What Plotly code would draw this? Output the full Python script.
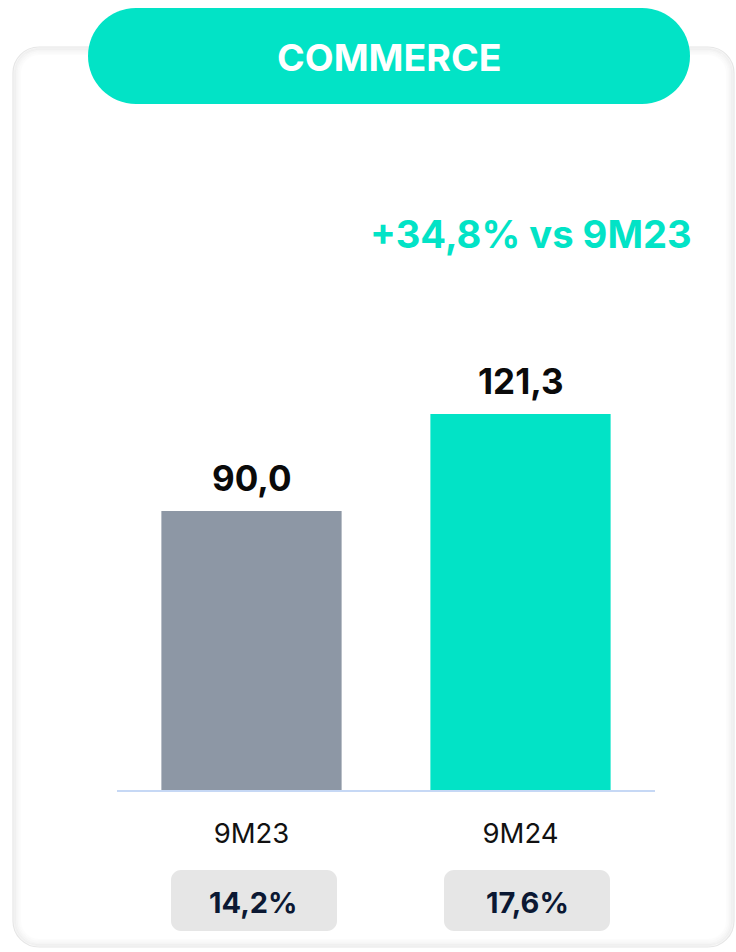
import plotly.graph_objects as go

W, H = 736, 952

categories = ["9M23", "9M24"]
values = [90.0, 121.3]
margin_pct = [14.2, 17.6]
growth_pct = 34.8
title_text = "COMMERCE"

bar_colors = ["#8D97A5", "#02E3C6"]
TEAL = "#02E3C6"
FONT = "Inter"


def fx(x):
    return x / W


def fy(y):
    return 1 - y / H


def rounded_rect(x0, y0, x1, y1, r):
    """Rounded rectangle path in pixel coords -> paper coords."""
    k = 0.5523 * r
    pts = [
        ("M", [(x0 + r, y0)]),
        ("L", [(x1 - r, y0)]),
        ("C", [(x1 - r + k, y0), (x1, y0 + r - k), (x1, y0 + r)]),
        ("L", [(x1, y1 - r)]),
        ("C", [(x1, y1 - r + k), (x1 - r + k, y1), (x1 - r, y1)]),
        ("L", [(x0 + r, y1)]),
        ("C", [(x0 + r - k, y1), (x0, y1 - r + k), (x0, y1 - r)]),
        ("L", [(x0, y0 + r)]),
        ("C", [(x0, y0 + r - k), (x0 + r - k, y0), (x0 + r, y0)]),
    ]
    out = []
    for cmd, ps in pts:
        out.append(cmd + " " + " ".join(f"{fx(a):.5f},{fy(b):.5f}" for a, b in ps))
    return " ".join(out) + " Z"


fig = go.Figure()

fig.add_trace(
    go.Bar(
        x=categories,
        y=values,
        marker=dict(color=bar_colors, line=dict(width=0)),
        width=0.67,
        hoverinfo="skip",
    )
)

shapes = []
# card with a soft inset shadow
cx0, cy0, cx1, cy1, cr = 13, 47, 734, 947, 26
shapes.append(dict(
    type="path", xref="paper", yref="paper", layer="below",
    path=rounded_rect(cx0, cy0, cx1, cy1, cr),
    fillcolor="white", line=dict(color="#E6E6E6", width=1.2),
))
for inset, alpha in [(1.8, 0.055), (3.6, 0.04), (5.4, 0.025), (7.2, 0.012)]:
    shapes.append(dict(
        type="path", xref="paper", yref="paper", layer="below",
        path=rounded_rect(cx0 + inset, cy0 + inset, cx1 - inset, cy1 - inset, cr - inset),
        line=dict(color=f"rgba(0,0,0,{alpha})", width=2),
    ))
# header pill
shapes.append(dict(
    type="path", xref="paper", yref="paper", layer="above",
    path=rounded_rect(88, 8, 690, 104, 48),
    fillcolor=TEAL, line=dict(width=0),
))
# margin pills under each category
pill_centers = [254, 527]
for c in pill_centers:
    shapes.append(dict(
        type="path", xref="paper", yref="paper", layer="below",
        path=rounded_rect(c - 83, 870, c + 83, 931, 10),
        fillcolor="#E6E6E6", line=dict(width=0),
    ))

annotations = [
    dict(
        text=f"<b>{title_text}</b>", x=fx(389), y=fy(57), xref="paper", yref="paper",
        showarrow=False, font=dict(family=FONT, size=37.5, color="white"),
        xanchor="center", yanchor="middle",
    ),
    dict(
        text=f"<b>+{growth_pct:.1f}% vs {categories[0]}</b>".replace(".", ","),
        x=fx(694), y=fy(234), xref="paper", yref="paper",
        showarrow=False, font=dict(family=FONT, size=38.2, color=TEAL),
        xanchor="right", yanchor="middle",
    ),
]
for cat, v in zip(categories, values):
    annotations.append(dict(
        text=f"<b>{v:.1f}</b>".replace(".", ","), x=cat, y=v, xref="x", yref="y",
        showarrow=False, font=dict(family=FONT, size=35, color="#0A0A0A"),
        xanchor="center", yanchor="bottom", yshift=10,
    ))
for c, m in zip(pill_centers, margin_pct):
    annotations.append(dict(
        text=f"<b>{m:.1f}%</b>".replace(".", ","), x=fx(c), y=fy(902),
        xref="paper", yref="paper", showarrow=False,
        font=dict(family=FONT, size=29, color="#0B1833"),
        xanchor="center", yanchor="middle",
    ))

fig.update_layout(
    width=W,
    height=H,
    margin=dict(l=0, r=0, t=0, b=0),
    paper_bgcolor="white",
    plot_bgcolor="rgba(0,0,0,0)",
    showlegend=False,
    shapes=shapes,
    annotations=annotations,
    xaxis=dict(
        domain=[fx(117), fx(655)],
        range=[-0.5, 1.5],
        type="category",
        showgrid=False,
        zeroline=False,
        showline=True,
        linecolor="#C6D8F5",
        linewidth=2,
        ticks="outside",
        ticklen=18,
        tickcolor="rgba(0,0,0,0)",
        tickfont=dict(family=FONT, size=27.5, color="#111111"),
        fixedrange=True,
    ),
    yaxis=dict(
        domain=[1 - 790 / H, 1],
        range=[0, 790 / 3.1],
        visible=False,
        fixedrange=True,
    ),
)

# drop the default 8px page margin so the figure sits at the window origin
fig.write_html(
    "out.html",
    config={"displayModeBar": False},
    post_script="document.body.style.margin='0';",
)
